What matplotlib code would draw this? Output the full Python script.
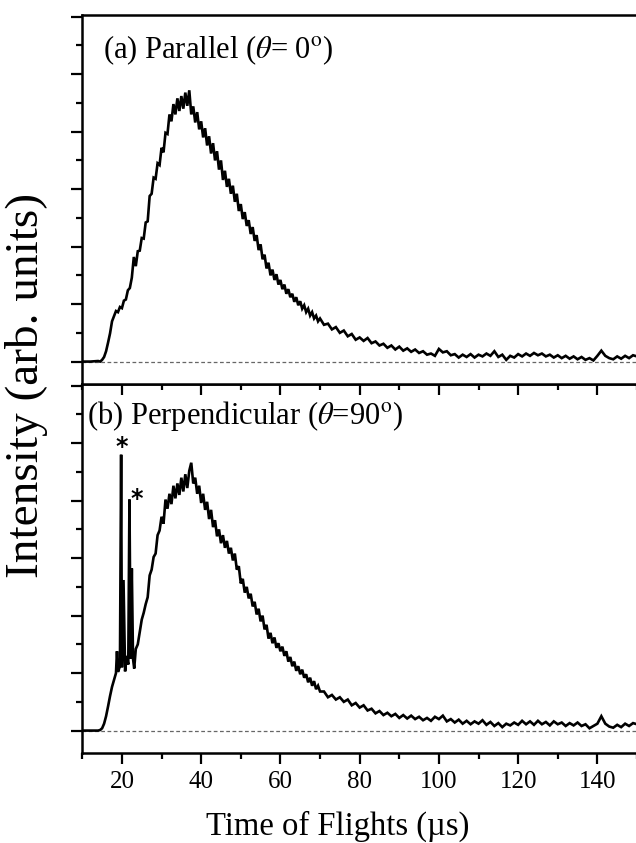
import matplotlib
matplotlib.use("Agg")
import matplotlib.pyplot as plt
from matplotlib.ticker import MultipleLocator

plt.rcParams['font.family'] = ['Liberation Serif', 'DejaVu Serif']
plt.rcParams['mathtext.fontset'] = 'stix'

# ---------------- data (time of flight in microseconds, intensity arb.) ----------------
tof_a = [10, 12, 14, 14.5, 15, 15.5, 16, 16.5, 17, 17.5, 18, 18.5, 19, 19.5, 20, 20.5, 21, 21.5, 22, 22.5,
         23, 23.5, 24, 24.5, 25, 25.5, 26, 26.5, 27, 27.5, 28, 28.5, 29, 29.5, 30, 30.5, 31, 31.5, 32, 32.5,
         33, 33.5, 34, 34.5, 35, 35.5, 36, 36.5, 37, 37.5, 38, 38.5, 39, 39.5, 40, 40.5, 41, 41.5, 42, 42.5,
         43, 43.5, 44, 44.5, 45, 45.5, 46, 46.5, 47, 47.5, 48, 48.5, 49, 49.5, 50, 50.5, 51, 51.5, 52, 52.5,
         53, 53.5, 54, 54.5, 55, 55.5, 56, 56.5, 57, 57.5, 58, 58.5, 59, 59.5, 60, 60.5, 61, 61.5, 62, 62.5,
         63, 63.5, 64, 64.5, 65, 65.5, 66, 66.5, 67, 67.5, 68, 68.5, 69, 69.5, 70,
         71, 72, 73, 74, 75, 76, 77, 78, 79, 80, 81, 82, 83, 84, 85, 86, 87, 88, 89, 90,
         91, 92, 93, 94, 95, 96, 97, 98, 99, 100, 101, 102, 103, 104, 105, 106, 107, 108, 109, 110,
         111, 112, 113, 114, 115, 116, 117, 118, 119, 120, 121, 122, 123, 124, 125, 126, 127, 128, 129, 130,
         131, 132, 133, 134, 135, 136, 137, 138, 139, 140, 141, 142, 143, 144, 145, 146, 147, 148, 149, 150]
int_a = [0.00, 0.00, 0.01, 0.00, 0.03, 0.08, 0.18, 0.33, 0.49, 0.70, 0.79, 0.88, 0.86, 0.95, 0.93, 1.06, 1.08, 1.24, 1.28, 1.46,
         1.82, 1.66, 1.92, 1.93, 2.15, 2.14, 2.42, 2.44, 2.88, 2.92, 3.20, 3.18, 3.45, 3.42, 3.72, 3.64, 3.98, 3.96, 4.30, 4.18,
         4.48, 4.30, 4.58, 4.36, 4.62, 4.40, 4.68, 4.45, 4.72, 4.30, 4.44, 4.16, 4.34, 4.04, 4.18, 3.90, 4.06, 3.76, 3.92, 3.62,
         3.80, 3.50, 3.66, 3.34, 3.50, 3.16, 3.32, 3.04, 3.18, 2.92, 3.06, 2.78, 2.92, 2.62, 2.74, 2.48, 2.60, 2.36, 2.46, 2.22,
         2.34, 2.10, 2.20, 1.94, 2.04, 1.78, 1.86, 1.62, 1.72, 1.50, 1.60, 1.42, 1.52, 1.34, 1.42, 1.26, 1.34, 1.18, 1.26, 1.12,
         1.18, 1.04, 1.12, 0.98, 1.05, 0.92, 0.98, 0.86, 0.92, 0.80, 0.86, 0.75, 0.80, 0.70, 0.75,
         0.64, 0.66, 0.56, 0.60, 0.50, 0.54, 0.44, 0.48, 0.38, 0.42, 0.36, 0.41, 0.32, 0.35, 0.28, 0.31, 0.24, 0.28, 0.21, 0.26,
         0.19, 0.23, 0.17, 0.21, 0.15, 0.18, 0.12, 0.14, 0.10, 0.22, 0.16, 0.18, 0.11, 0.13, 0.07, 0.12, 0.08, 0.13, 0.07, 0.12,
         0.09, 0.14, 0.10, 0.18, 0.08, 0.12, 0.03, 0.10, 0.07, 0.13, 0.09, 0.14, 0.10, 0.15, 0.11, 0.14, 0.09, 0.12, 0.07, 0.11,
         0.06, 0.10, 0.05, 0.09, 0.04, 0.08, 0.03, 0.06, 0.02, 0.10, 0.19, 0.10, 0.06, 0.04, 0.09, 0.05, 0.10, 0.06, 0.11, 0.09]

tof_b = [10, 12, 14, 14.5, 15, 15.5, 16, 16.5, 17, 17.5, 18, 18.5, 18.75, 19, 19.5, 19.8, 20.0, 20.4, 20.8, 21.2,
         21.6, 21.9, 22.2, 22.5, 22.8, 23.1, 23.5, 24, 24.5, 25, 25.5, 26, 26.5, 27, 27.5, 28, 28.5, 29, 29.5, 30,
         30.5, 31, 31.5, 32, 32.5, 33, 33.5, 34, 34.5, 35, 35.5, 36, 36.5, 37, 37.5, 38, 38.5, 39, 39.5, 40,
         40.5, 41, 41.5, 42, 42.5, 43, 43.5, 44, 44.5, 45, 45.5, 46, 46.5, 47, 47.5, 48, 48.5, 49, 49.5, 50,
         50.5, 51, 51.5, 52, 52.5, 53, 53.5, 54, 54.5, 55, 55.5, 56, 56.5, 57, 57.5, 58, 58.5, 59, 59.5, 60,
         60.5, 61, 61.5, 62, 62.5, 63, 63.5, 64, 64.5, 65, 65.5, 66, 66.5, 67, 67.5, 68, 68.5, 69, 69.5, 70,
         71, 72, 73, 74, 75, 76, 77, 78, 79, 80, 81, 82, 83, 84, 85, 86, 87, 88, 89, 90,
         91, 92, 93, 94, 95, 96, 97, 98, 99, 100, 101, 102, 103, 104, 105, 106, 107, 108, 109, 110,
         111, 112, 113, 114, 115, 116, 117, 118, 119, 120, 121, 122, 123, 124, 125, 126, 127, 128, 129, 130,
         131, 132, 133, 134, 135, 136, 137, 138, 139, 140, 141, 142, 143, 144, 145, 146, 147, 148, 149, 150]
int_b = [0.00, 0.00, 0.00, 0.01, 0.04, 0.12, 0.25, 0.42, 0.60, 0.76, 0.88, 1.00, 1.38, 1.02, 1.12, 4.80, 1.10, 2.62, 1.03, 1.30,
         1.15, 4.02, 1.25, 2.82, 1.25, 1.08, 1.42, 1.50, 1.72, 1.93, 2.05, 2.20, 2.32, 2.70, 2.80, 3.02, 3.08, 3.40, 3.48, 3.72,
         3.60, 4.02, 3.86, 4.12, 3.94, 4.26, 4.04, 4.30, 4.10, 4.40, 4.16, 4.46, 4.22, 4.52, 4.66, 4.30, 4.40, 4.12, 4.26, 3.96,
         4.12, 3.84, 3.98, 3.68, 3.84, 3.54, 3.66, 3.38, 3.50, 3.26, 3.40, 3.18, 3.30, 3.08, 3.18, 2.96, 3.08, 2.80, 2.86, 2.56,
         2.64, 2.40, 2.50, 2.30, 2.38, 2.16, 2.24, 2.02, 2.12, 1.90, 2.00, 1.76, 1.84, 1.60, 1.70, 1.52, 1.62, 1.44, 1.52, 1.38,
         1.46, 1.30, 1.38, 1.20, 1.28, 1.12, 1.20, 1.04, 1.12, 0.98, 1.06, 0.92, 0.98, 0.84, 0.92, 0.78, 0.86, 0.72, 0.78, 0.68,
         0.68, 0.58, 0.62, 0.54, 0.58, 0.50, 0.54, 0.44, 0.48, 0.40, 0.44, 0.35, 0.38, 0.30, 0.34, 0.27, 0.31, 0.25, 0.29, 0.22,
         0.27, 0.21, 0.26, 0.20, 0.24, 0.18, 0.22, 0.17, 0.24, 0.20, 0.26, 0.16, 0.20, 0.14, 0.19, 0.12, 0.17, 0.11, 0.16, 0.12,
         0.18, 0.10, 0.15, 0.08, 0.13, 0.06, 0.12, 0.09, 0.14, 0.10, 0.17, 0.11, 0.16, 0.10, 0.17, 0.11, 0.15, 0.09, 0.16, 0.11,
         0.14, 0.08, 0.13, 0.09, 0.14, 0.08, 0.11, 0.04, 0.08, 0.12, 0.25, 0.12, 0.07, 0.05, 0.10, 0.06, 0.12, 0.08, 0.13, 0.11]

# asterisk marks on the two sharp peaks in (b)
star_x = [20.0, 23.7]
star_y = [4.93, 4.03]

xticks_major = [20, 40, 60, 80, 100, 120, 140]
panel_labels = [r"(a) Parallel ($\theta$= 0$^{\rm o}$)", r"(b) Perpendicular ($\theta$=90$^{\rm o}$)"]

# ---------------- figure ----------------
W, H = 636, 843
fig = plt.figure(figsize=(W / 100, H / 100), dpi=100)
left = 82.3 / W
width = (637.0 - 82.3) / W
ax_a = fig.add_axes([left, 1 - 384 / H, width, 369 / H])
ax_b = fig.add_axes([left, 1 - 753 / H, width, 369 / H])
ax_a.set_zorder(2)

for ax, t, y in ((ax_a, tof_a, int_a), (ax_b, tof_b, int_b)):
    ax.plot(t, y, color='black', lw=1.9, solid_joinstyle='miter')
    ax.axhline(0, color='#666666', lw=0.9, ls=(0, (3, 2)), zorder=1)
    ax.set_xlim(10, 150)
    ax.set_ylim(-0.39, 6.03)
    ax.yaxis.set_major_locator(MultipleLocator(1))
    ax.yaxis.set_minor_locator(MultipleLocator(0.5))
    ax.xaxis.set_major_locator(MultipleLocator(20))
    ax.xaxis.set_minor_locator(MultipleLocator(10))
    ax.tick_params(axis='y', which='major', direction='out', length=8, width=1.6, labelleft=False)
    ax.tick_params(axis='y', which='minor', direction='out', length=4, width=1.6)
    ax.tick_params(axis='x', which='major', direction='out', length=8, width=1.6)
    ax.tick_params(axis='x', which='minor', direction='out', length=4, width=1.6)
    for s in ax.spines.values():
        s.set_linewidth(1.8)
    ax.spines['right'].set_visible(False)

ax_a.tick_params(axis='x', which='both', labelbottom=False)
ax_b.set_xticks(xticks_major)
ax_b.tick_params(axis='x', which='major', labelsize=18, pad=5)

ax_a.text(15.1, 5.42, panel_labels[0], fontsize=22, va='center', ha='left')
ax_b.text(11.3, 5.48, panel_labels[1], fontsize=22, va='center', ha='left')
for sx, sy in zip(star_x, star_y):
    ax_b.text(sx, sy, '*', fontsize=17, fontweight='bold', ha='center', va='center',
              family='DejaVu Sans')

fig.text(338 / W, 1 - 826 / H, 'Time of Flights (\u00b5s)', fontsize=23.5, ha='center', va='center')
fig.text(27 / W, 1 - 385 / H, 'Intensity (arb. units)', fontsize=34, ha='center', va='center',
         rotation=90)

fig.savefig('out.png', dpi=100)
